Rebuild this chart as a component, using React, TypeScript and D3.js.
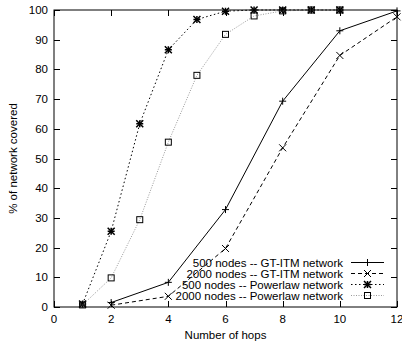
import React, { useEffect, useRef } from "react";
import * as d3 from "d3";

// hops on the x axis
const gtHops = [2, 4, 6, 8, 10, 12];
const plHops = [1, 2, 3, 4, 5, 6, 7, 8, 9, 10];

// % of network covered
const gt500 = [1.5, 8.3, 32.8, 69.3, 93.0, 99.7];
const gt2000 = [0.6, 3.6, 19.7, 53.6, 84.7, 97.7];
const pl500 = [1.0, 25.5, 61.7, 86.6, 96.8, 99.6, 100, 100, 100, 100];
const pl2000 = [0.7, 9.8, 29.4, 55.5, 78.0, 91.8, 98.0, 99.7, 100, 100];

const seriesNames = [
  "500 nodes -- GT-ITM network",
  "2000 nodes -- GT-ITM network",
  "500 nodes -- Powerlaw network",
  "2000 nodes -- Powerlaw network",
];

const xTicks = [0, 2, 4, 6, 8, 10, 12];
const yTicks = [0, 10, 20, 30, 40, 50, 60, 70, 80, 90, 100];

export default function App() {
  const ref = useRef<SVGSVGElement>(null);

  useEffect(() => {
    const svg = d3.select(ref.current);
    svg.selectAll("*").remove();

    const width = 402;
    const height = 346;
    const margin = { top: 10, right: 5, bottom: 39, left: 54 };
    const font = "'Liberation Sans', Arial, Helvetica, sans-serif";

    const x = d3.scaleLinear().domain([0, 12]).range([margin.left, width - margin.right]);
    const y = d3.scaleLinear().domain([0, 100]).range([height - margin.bottom, margin.top]);

    const series = [
      { name: seriesNames[0], xs: gtHops, ys: gt500, color: "#000", dash: null, marker: "plus" },
      { name: seriesNames[1], xs: gtHops, ys: gt2000, color: "#000", dash: "4,3", marker: "cross" },
      { name: seriesNames[2], xs: plHops, ys: pl500, color: "#000", dash: "1.5,2.5", marker: "star" },
      { name: seriesNames[3], xs: plHops, ys: pl2000, color: "#999", dash: "1,1.5", marker: "square" },
    ];

    const drawMarker = (g: any, kind: string, cx: number, cy: number) => {
      const s = 3.5;
      const m = g.append("g").attr("transform", `translate(${cx},${cy})`)
        .attr("stroke", "#000").attr("stroke-width", 1).attr("fill", "none");
      if (kind === "plus" || kind === "star") {
        m.append("path").attr("d", `M${-s},0H${s}M0,${-s}V${s}`);
      }
      if (kind === "cross" || kind === "star") {
        m.append("path").attr("d", `M${-s},${-s}L${s},${s}M${-s},${s}L${s},${-s}`);
      }
      if (kind === "star") {
        m.attr("stroke-width", 1.5);
      }
      if (kind === "square") {
        m.append("rect").attr("x", -3).attr("y", -3).attr("width", 6).attr("height", 6);
      }
    };

    // ticks (gnuplot style, inward with mirror)
    const ticks = svg.append("g").attr("stroke", "#000").attr("stroke-width", 1);
    yTicks.forEach(v => {
      const yy = Math.round(y(v)) + 0.5;
      ticks.append("line").attr("x1", x(0)).attr("x2", x(0) + 6).attr("y1", yy).attr("y2", yy);
      ticks.append("line").attr("x1", x(12)).attr("x2", x(12) - 6).attr("y1", yy).attr("y2", yy);
    });
    xTicks.forEach(v => {
      const xx = Math.round(x(v)) + 0.5;
      ticks.append("line").attr("x1", xx).attr("x2", xx).attr("y1", y(0)).attr("y2", y(0) - 6);
      ticks.append("line").attr("x1", xx).attr("x2", xx).attr("y1", y(100)).attr("y2", y(100) + 6);
    });

    // tick labels
    svg.append("g").selectAll("text").data(yTicks).join("text")
      .attr("x", x(0) - 6).attr("y", d => y(d) + 4)
      .attr("text-anchor", "end").attr("font-family", font).attr("font-size", 11.5)
      .text(d => d);
    svg.append("g").selectAll("text").data(xTicks).join("text")
      .attr("x", d => x(d)).attr("y", y(0) + 16)
      .attr("text-anchor", "middle").attr("font-family", font).attr("font-size", 11.5)
      .text(d => d);

    // axis titles
    svg.append("text")
      .attr("x", x(6)).attr("y", 339)
      .attr("text-anchor", "middle").attr("font-family", font).attr("font-size", 11.5)
      .text("Number of hops");
    svg.append("text")
      .attr("transform", `translate(17,${(y(0) + y(100)) / 2}) rotate(-90)`)
      .attr("text-anchor", "middle").attr("font-family", font).attr("font-size", 11.5)
      .text("% of network covered");

    // lines + markers
    series.forEach(s => {
      const pts = s.xs.map((v, i) => [x(v), y(s.ys[i])] as [number, number]);
      svg.append("path")
        .attr("d", d3.line()(pts))
        .attr("fill", "none")
        .attr("stroke", s.color)
        .attr("stroke-width", 1)
        .attr("stroke-dasharray", s.dash);
      const mg = svg.append("g");
      pts.forEach(p => drawMarker(mg, s.marker, p[0], p[1]));
    });

    // legend
    const lg = svg.append("g");
    series.forEach((s, i) => {
      const ly = 262.5 + i * 11;
      lg.append("text")
        .attr("x", 343).attr("y", ly + 4)
        .attr("text-anchor", "end").attr("font-family", font).attr("font-size", 11.5)
        .text(s.name);
      lg.append("line")
        .attr("x1", 351).attr("x2", 384).attr("y1", ly).attr("y2", ly)
        .attr("stroke", s.color).attr("stroke-width", 1)
        .attr("stroke-dasharray", s.dash);
      drawMarker(lg, s.marker, 367.5, ly);
    });

    // frame
    svg.append("rect")
      .attr("x", x(0)).attr("y", y(100))
      .attr("width", x(12) - x(0)).attr("height", y(0) - y(100))
      .attr("fill", "none").attr("stroke", "#000").attr("stroke-width", 1);
  }, []);

  return (
    <svg
      ref={ref}
      width={402}
      height={346}
      style={{ position: "absolute", left: 0, top: 0, background: "#fff" }}
    />
  );
}
